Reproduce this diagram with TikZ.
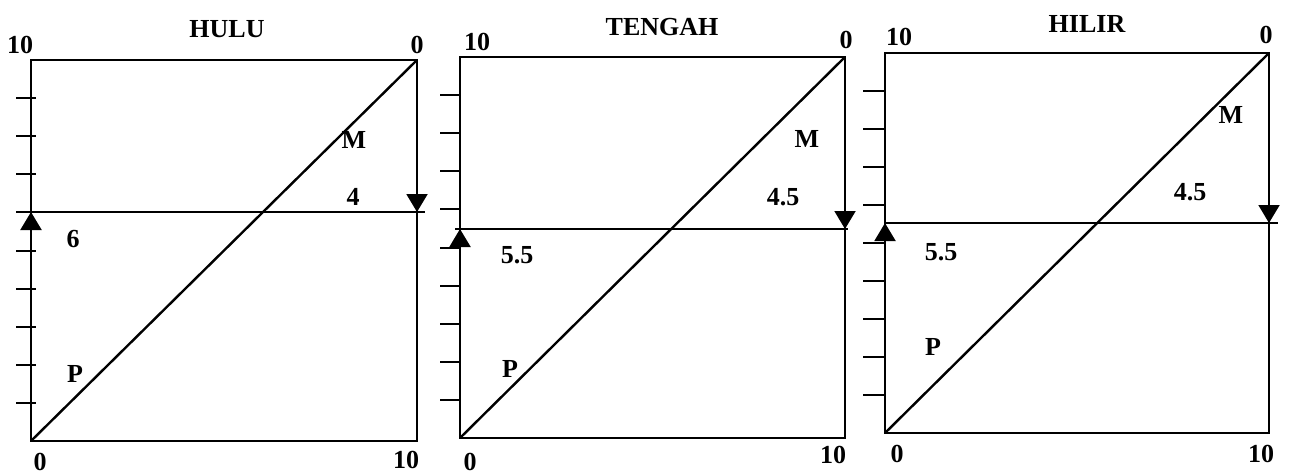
\documentclass[tikz,border=0pt]{standalone}
\usepackage{fontspec}
\setmainfont{Liberation Serif}
\usetikzlibrary{arrows.meta}
\begin{document}
\begin{tikzpicture}[x=1pt,y=-1pt,
  frame/.style={line width=2pt, line join=miter},
  diag/.style={line width=2.4pt, line cap=round},
  axtick/.style={line width=2pt},
  lbl/.style={font=\bfseries\fontsize{26}{28}\selectfont, inner sep=0pt, anchor=base},
  flow/.style={line width=2pt, -{Triangle[length=18pt,width=21pt]}}
]
\useasboundingbox (0,0) rectangle (1289,474);

% ---------- Panel 1: HULU ----------
\coordinate (a-tl) at (31,60);
\coordinate (a-tr) at (417,60);
\coordinate (a-bl) at (31,441);
\coordinate (a-br) at (417,441);
\coordinate (a-ml) at (31,212);
\coordinate (a-mr) at (417,212);
\coordinate (a-hl) at (16,212);
\coordinate (a-hr) at (425,212);
\draw[frame] (a-tl) -- (a-tr) -- (a-br) -- (a-bl) -- cycle;
\draw[frame] (a-hl) -- (a-hr);
\foreach \k in {1,...,9} \draw[axtick] (16,{60+38.1*\k}) -- (36,{60+38.1*\k});
\draw[flow] (a-bl) -- (a-ml);
\draw[flow] (a-tr) -- (a-mr);
\draw[diag] (a-bl) -- (a-tr);
\node[lbl] (a-title) at (227,37) {HULU};
\node[lbl] (a-10t) at (20,53) {10};
\node[lbl] (a-0t) at (417,53) {0};
\node[lbl] (a-M) at (354,148) {M};
\node[lbl] (a-4) at (353,205) {4};
\node[lbl] (a-6) at (73,247) {6};
\node[lbl] (a-P) at (75,382) {P};
\node[lbl] (a-0b) at (40,470) {0};
\node[lbl] (a-10b) at (406,468) {10};

% ---------- Panel 2: TENGAH ----------
\coordinate (b-tl) at (460,57);
\coordinate (b-tr) at (845,57);
\coordinate (b-bl) at (460,438);
\coordinate (b-br) at (845,438);
\coordinate (b-ml) at (460,229);
\coordinate (b-mr) at (845,229);
\coordinate (b-hl) at (455,229);
\coordinate (b-hr) at (848,229);
\draw[frame] (b-tl) -- (b-tr) -- (b-br) -- (b-bl) -- cycle;
\draw[frame] (b-hl) -- (b-hr);
\foreach \k in {1,...,9} \draw[axtick] (440,{57+38.1*\k}) -- (461,{57+38.1*\k});
\draw[flow] (b-bl) -- (b-ml);
\draw[flow] (b-tr) -- (b-mr);
\draw[diag] (b-bl) -- (b-tr);
\node[lbl] (b-title) at (662,35) {TENGAH};
\node[lbl] (b-10t) at (477,50) {10};
\node[lbl] (b-0t) at (846,48) {0};
\node[lbl] (b-M) at (807,147) {M};
\node[lbl] (b-45) at (783,205) {4.5};
\node[lbl] (b-55) at (517,263) {5.5};
\node[lbl] (b-P) at (510,377) {P};
\node[lbl] (b-0b) at (470,470) {0};
\node[lbl] (b-10b) at (833,463) {10};

% ---------- Panel 3: HILIR ----------
\coordinate (c-tl) at (885,53);
\coordinate (c-tr) at (1269,53);
\coordinate (c-bl) at (885,433);
\coordinate (c-br) at (1269,433);
\coordinate (c-ml) at (885,223);
\coordinate (c-mr) at (1269,223);
\coordinate (c-hl) at (885,223);
\coordinate (c-hr) at (1278,223);
\draw[frame] (c-tl) -- (c-tr) -- (c-br) -- (c-bl) -- cycle;
\draw[frame] (c-hl) -- (c-hr);
\foreach \k in {1,...,9} \draw[axtick] (863,{53+38.0*\k}) -- (886,{53+38.0*\k});
\draw[flow] (c-bl) -- (c-ml);
\draw[flow] (c-tr) -- (c-mr);
\draw[diag] (c-bl) -- (c-tr);
\node[lbl] (c-title) at (1087,32) {HILIR};
\node[lbl] (c-10t) at (899,45) {10};
\node[lbl] (c-0t) at (1266,43) {0};
\node[lbl] (c-M) at (1231,123) {M};
\node[lbl] (c-45) at (1190,200) {4.5};
\node[lbl] (c-55) at (941,260) {5.5};
\node[lbl] (c-P) at (933,355) {P};
\node[lbl] (c-0b) at (897,462) {0};
\node[lbl] (c-10b) at (1261,462) {10};
\end{tikzpicture}
\end{document}
